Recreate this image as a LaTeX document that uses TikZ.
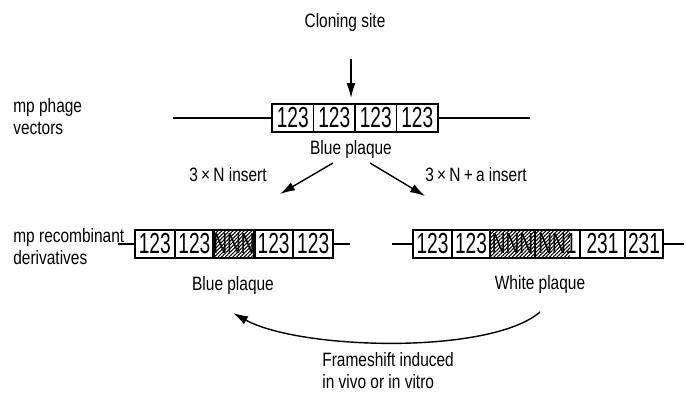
\documentclass[tikz,border=0pt]{standalone}
\usepackage{fontspec}
\setmainfont{Liberation Sans}[FakeStretch=0.8]
\newfontfamily\digitfont{Liberation Sans}[FakeStretch=0.66]
\usetikzlibrary{arrows.meta,patterns.meta,backgrounds}

\begin{document}
\begin{tikzpicture}[x=0.02cm,y=-0.02cm,
		seg/.style={draw,line width=1.1pt,inner sep=0pt,minimum height=5.6mm,
			font=\digitfont\fontsize{16.5}{16.5}\selectfont},
		txt/.style={font=\fontsize{11}{12.5}\selectfont,align=left,inner sep=0pt},
		dna/.style={line width=0.9pt},
		hatch/.style={pattern={Lines[angle=45,distance=1.5pt,line width=0.6pt]}},
		arr/.style={line width=0.8pt,-{Latex[length=3mm,width=1.8mm]}}]

		\useasboundingbox (0,0) rectangle (686,393);

		% vector
		\node[txt] (cloning) at (345,22) {Cloning site};
		\node[txt,anchor=west] (phage) at (13,117) {mp phage\\vectors};
		\coordinate (tl) at (173,118);
		\coordinate (tr) at (530,118);
		\coordinate (ts) at (351,59);
		\coordinate (te) at (351,98);
		\foreach \i/\x in {1/292.75,2/334.25,3/375.75,4/417.25}
			\node[seg,minimum width=8.3mm] (v\i) at (\x,118) {123};
		\draw[dna] (tl) -- (v1.west);
		\draw[dna] (v4.east) -- (tr);
		\draw[arr] (ts) -- (te);
		\node[txt] (bluetop) at (351,149) {Blue plaque};

		% inserts
		\coordinate (al) at (333,163);
		\coordinate (ar) at (370,163);
		\coordinate (bl) at (280,194);
		\coordinate (br) at (425,196);
		\draw[arr] (al) -- (bl);
		\draw[arr] (ar) -- (br);
		\node[txt] (ins1) at (228,175) {3\,×\,N insert};
		\node[txt,anchor=west] (ins2) at (425,175) {3\,×\,N\,+\,a insert};

		% recombinants
		\node[txt,anchor=west] (recomb) at (13,247) {mp recombinant\\derivatives};
		\coordinate (ll) at (118,244);
		\coordinate (lr) at (350,244);
		\foreach \i/\x/\t in {1/154.8/123,2/194.4/123,3/234/NNN,4/273.6/123,5/313.2/123}
			\node[seg,minimum width=7.92mm] (b\i) at (\x,244) {\t};
		\draw[dna] (ll) -- (b1.west);
		\draw[dna] (b5.east) -- (lr);
		\node[txt] (blue) at (233,285) {Blue plaque};

		\coordinate (rl) at (392,244);
		\coordinate (rr) at (684,244);
		\node[seg,minimum width=7.8mm] (w1) at (432.5,244) {123};
		\node[seg,minimum width=7.6mm] (w2) at (471,244) {123};
		\node[seg,minimum width=9mm] (w3) at (512.5,244) {NNN};
		\node[seg,minimum width=9mm] (w4) at (557.5,244) {NN1};
		\node[seg,minimum width=9mm] (w5) at (602.5,244) {231};
		\node[seg,minimum width=7.6mm] (w6) at (644,244) {231};
		\draw[dna] (rl) -- (w1.west);
		\draw[dna] (w6.east) -- (rr);
		\node[txt] (white) at (540,284) {White plaque};

		\begin{scope}[on background layer]
			\fill[hatch] (b3.north west) rectangle (b3.south east);
			\fill[hatch] (w3.north west) rectangle (w3.south east);
			\fill[hatch] (w4.north west) rectangle ([xshift=-2.2mm]w4.south east);
		\end{scope}

		% frameshift
		\coordinate (fs) at (540,312);
		\coordinate (fe) at (233,313);
		\draw[arr] (fs) .. controls (490,355) and (300,350) .. (fe);
		\node[txt,anchor=west] (frame) at (322,371) {Frameshift induced\\in vivo or in vitro};

\end{tikzpicture}
\end{document}
